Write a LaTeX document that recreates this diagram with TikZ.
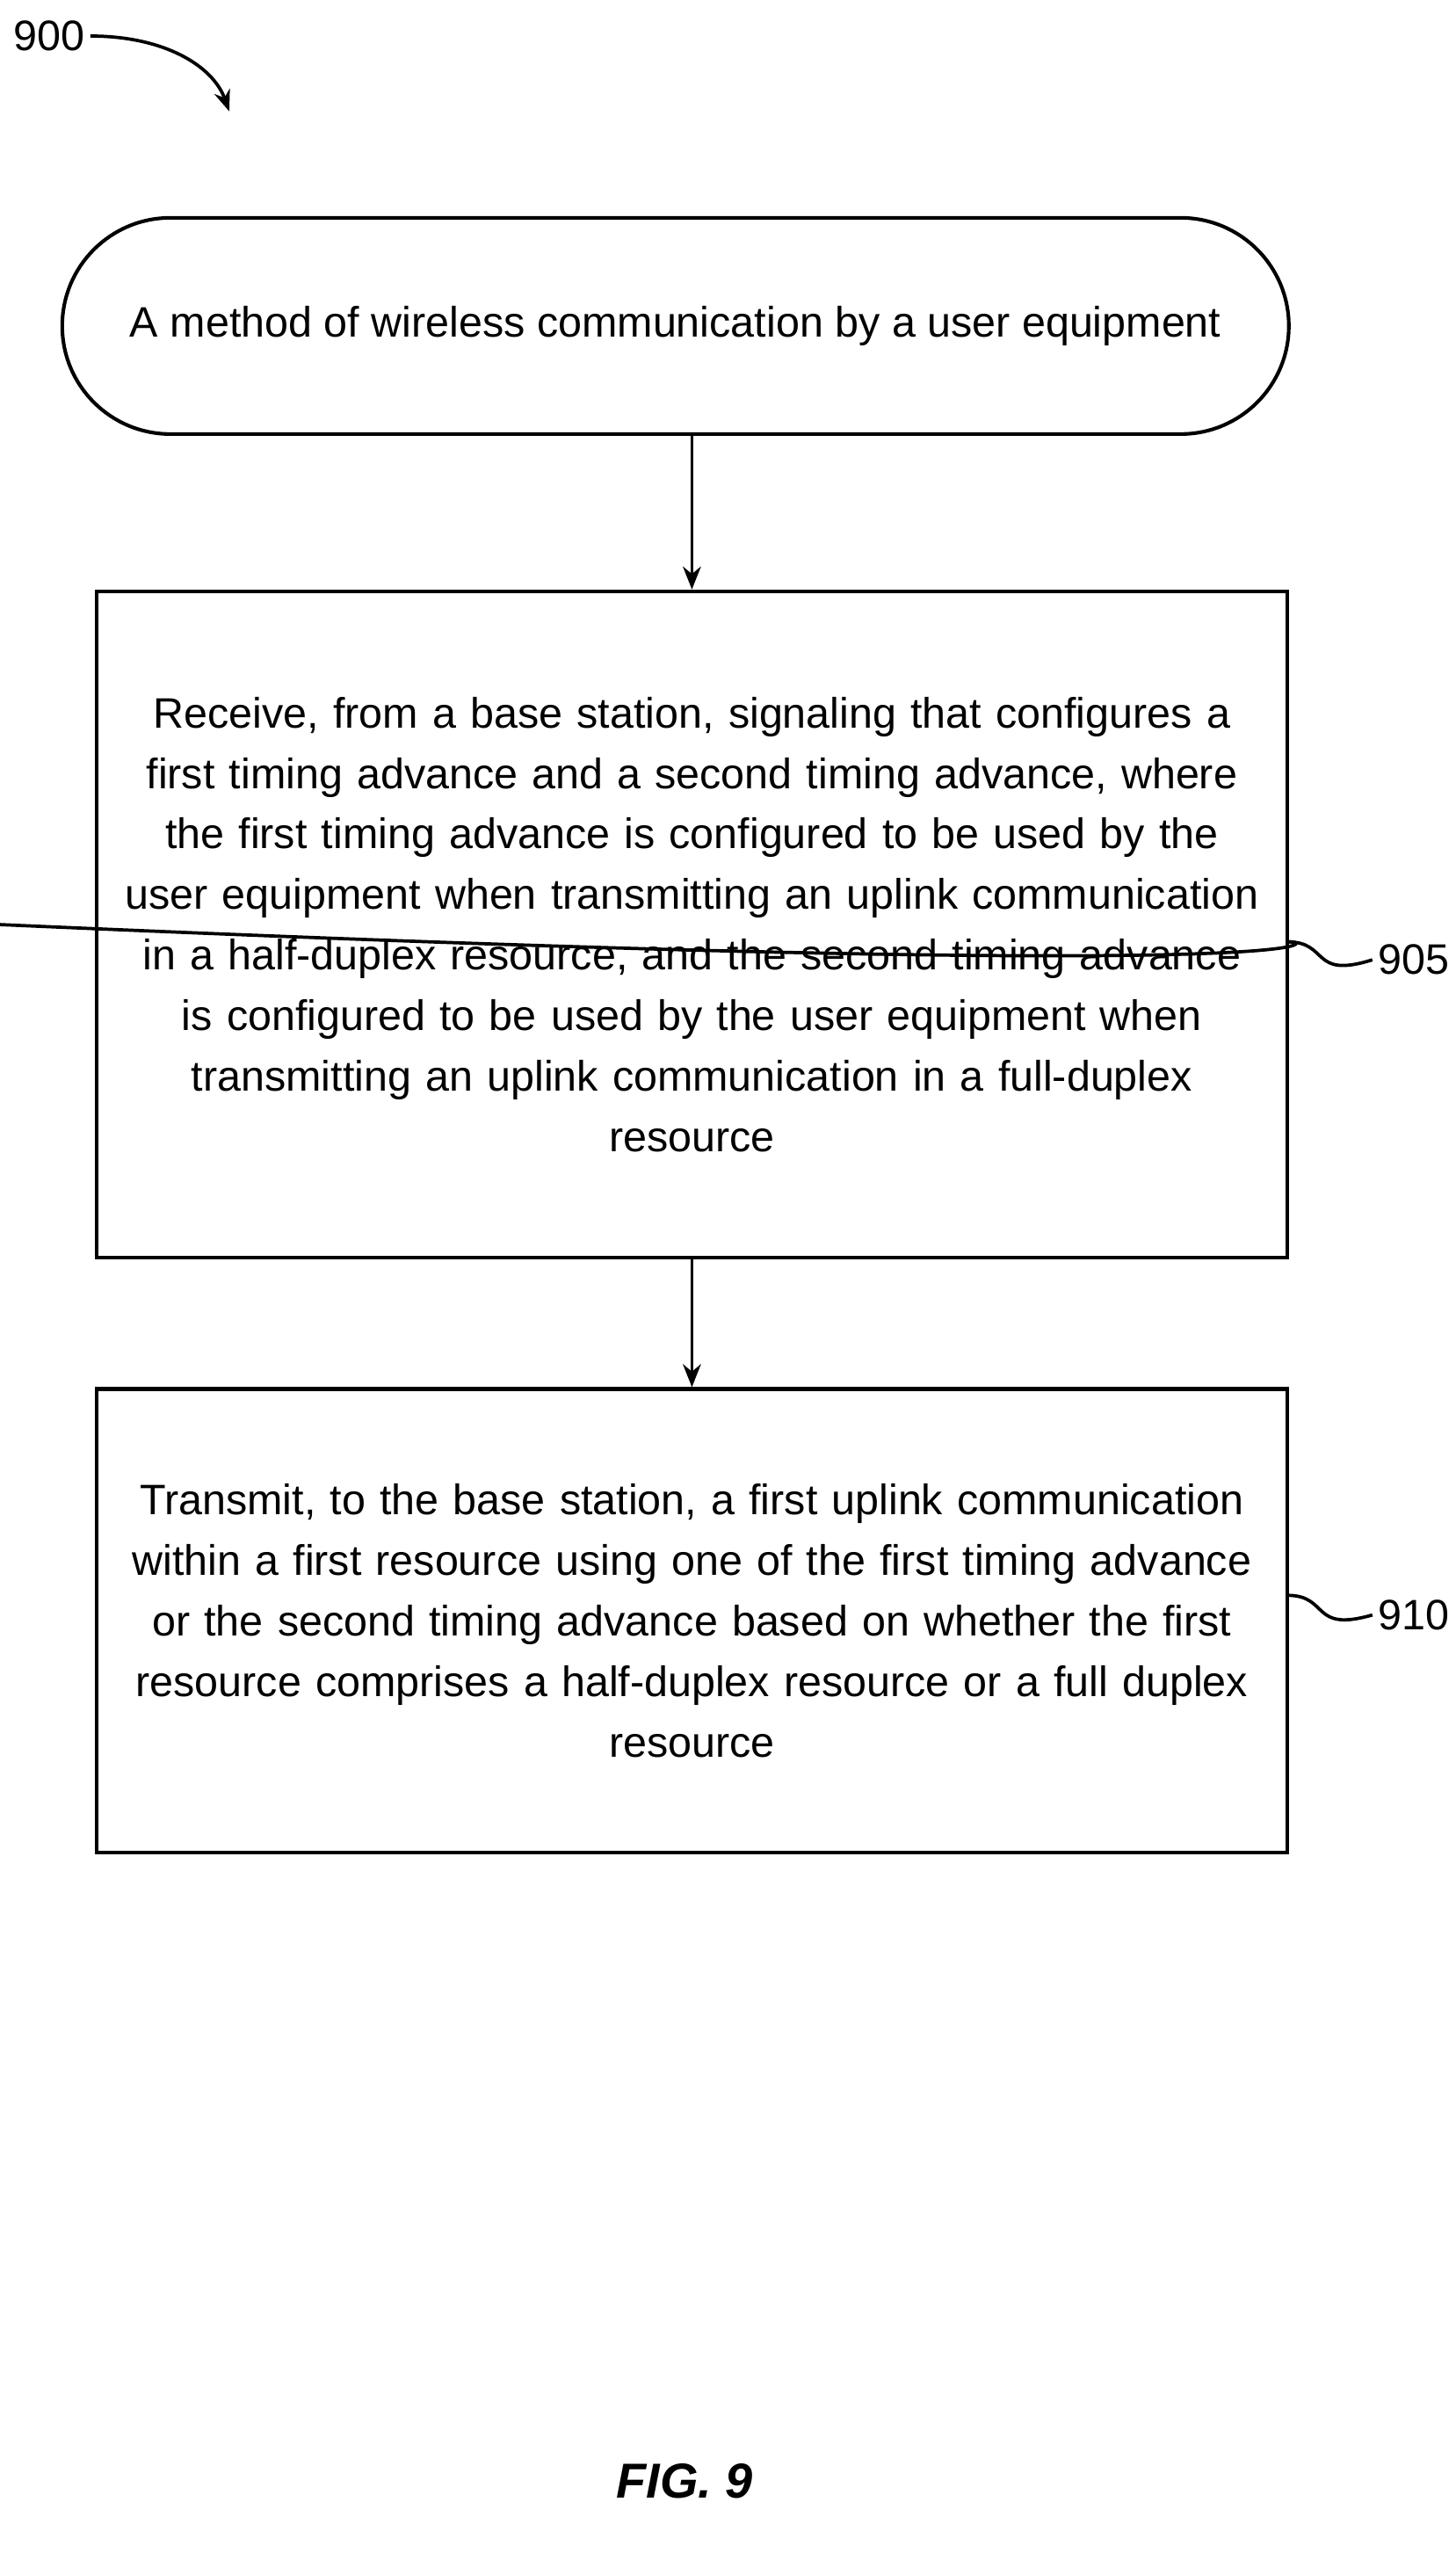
\documentclass[tikz,border=0pt]{standalone}
\usepackage{fontspec}
\setmainfont{Liberation Sans}
\usetikzlibrary{arrows.meta,shapes.misc}
\begin{document}
\begin{tikzpicture}[x=1pt,y=-1pt,
  box/.style={draw,line width=2.2pt,align=center,font=\fontsize{26}{37}\selectfont},
  arr/.style={line width=2pt,-{Stealth[length=14pt,width=11pt]}},
  lbl/.style={font=\fontsize{26}{30}\selectfont}]
\useasboundingbox (0,0) rectangle (889,1563);
\node[box,rounded rectangle,minimum width=749pt,minimum height=132pt,inner sep=0pt] (s) at (412.5,199) {A method of wireless communication by a user equipment};
\node[box,minimum width=727pt,minimum height=407pt,inner sep=0pt,text width=700pt] (b1) at (422.5,564.5) {Receive, from a base station, signaling that configures a\\first timing advance and a second timing advance, where\\the first timing advance is configured to be used by the\\user equipment when transmitting an uplink communication\\in a half-duplex resource, and the second timing advance\\is configured to be used by the user equipment when\\transmitting an uplink communication in a full-duplex\\resource};
\node[box,minimum width=727pt,minimum height=283pt,inner sep=0pt,text width=700pt] (b2) at (422.5,989.5) {Transmit, to the base station, a first uplink communication\\within a first resource using one of the first timing advance\\or the second timing advance based on whether the first\\resource comprises a half-duplex resource or a full duplex\\resource};
\draw[arr] (s.south -| b1.north) -- (b1.north);
\draw[arr] (b1.south) -- (b2.north);
\node[lbl] (n900) at (30,22) {900};
\coordinate (a9) at (140,68);
\draw[line width=2pt,-{Stealth[length=13pt,width=10pt]}] (n900.east) .. controls (100,22) and (130,40) .. (a9);
\node[lbl,anchor=west] (n905) at (838,586) {905};
\draw[line width=2pt] (b1.east |- 0,575) .. controls (805,575) and (805,600) .. (b1.east -| 0,0) ++(0,0);
\coordinate (c905) at (786,575);
\draw[line width=2pt] (c905) .. controls (812,575) and (800,598) .. (n905.west);
\node[lbl,anchor=west] (n910) at (838,986) {910};
\coordinate (c910) at (786,974);
\draw[line width=2pt] (c910) .. controls (812,974) and (800,997) .. (n910.west);
\node[font=\bfseries\itshape\fontsize{30}{34}\selectfont] (fig) at (418,1515) {FIG. 9};
\end{tikzpicture}
\end{document}
